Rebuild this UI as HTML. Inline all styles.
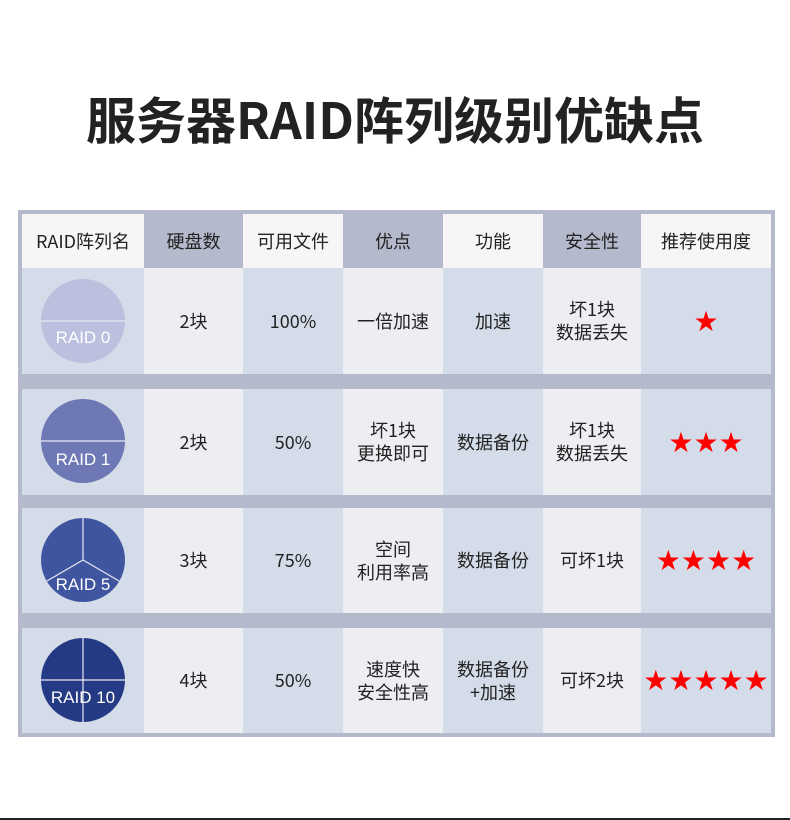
<!DOCTYPE html>
<html><head><meta charset="utf-8"><style>
body{margin:0;width:790px;height:820px;background:#fff;position:relative;overflow:hidden;font-family:"Liberation Sans","Noto Sans CJK SC",sans-serif;}
.t{position:absolute;left:0;width:790px;top:84px;text-align:center;font-size:50px;font-weight:bold;color:#222;line-height:68px;font-family:"Noto Sans CJK SC",sans-serif;}
.tb{position:absolute;left:18px;top:210px;width:757px;height:527px;background:#b4b9cc;}
.c{position:absolute;display:flex;align-items:center;justify-content:center;text-align:center;font-size:18px;color:#222;line-height:23px;font-family:"Noto Sans CJK SC",sans-serif;}
.st{color:#f00;font-size:28px;letter-spacing:0px;font-family:"DejaVu Sans",sans-serif;}
.line{position:absolute;left:0;top:818px;width:790px;height:2px;background:#222;}
</style></head><body>
<div class="t">服务器RAID阵列级别优缺点</div>
<div class="tb"></div>
<div id="g"></div>
<svg style="position:absolute;left:0;top:0" width="790" height="820">
<defs><clipPath id="k0"><circle cx="83" cy="321" r="42"/></clipPath>
<clipPath id="k1"><circle cx="83" cy="441" r="42"/></clipPath>
<clipPath id="k2"><circle cx="83" cy="560" r="42"/></clipPath>
<clipPath id="k3"><circle cx="83" cy="680" r="42"/></clipPath></defs>
</svg>
<script>
var xs=[22,144,243,343,443,543,641,771];
var H=["RAID阵列名","硬盘数","可用文件","优点","功能","安全性","推荐使用度"];
var rows=[[268,374],[389,495],[508,613],[628,733]];
var D=[["","2块","100%","一倍加速","加速","坏1块<br>数据丢失",1],
["","2块","50%","坏1块<br>更换即可","数据备份","坏1块<br>数据丢失",3],
["","3块","75%","空间<br>利用率高","数据备份","可坏1块",4],
["","4块","50%","速度快<br>安全性高","数据备份<br>+加速","可坏2块",5]];
var h="";
for(var i=0;i<7;i++){h+='<div class="c" style="left:'+xs[i]+'px;top:214px;width:'+(xs[i+1]-xs[i])+'px;height:54px;background:'+(i%2?'#b4b9cc':'#f7f5f6')+'">'+H[i]+'</div>';}
for(var r=0;r<4;r++){for(var i=0;i<7;i++){var v=D[r][i];if(i==6){v='<span class="st">'+"★★★★★".slice(0,v)+'</span>';}
h+='<div class="c" style="left:'+xs[i]+'px;top:'+rows[r][0]+'px;width:'+(xs[i+1]-xs[i])+'px;height:'+(rows[r][1]-rows[r][0])+'px;background:'+(i%2?'#eceef2':'#d5dce9')+'">'+v+'</div>';}}
document.getElementById('g').innerHTML=h;
var cy=[321,441,560,680],col=["#bcc0df","#6d78b5","#3f55a0","#253a85"],lab=["RAID 0","RAID 1","RAID 5","RAID 10"],off=[22,24,30,23];
var s="";
for(var r=0;r<4;r++){var y=cy[r];s+='<circle cx="83" cy="'+y+'" r="42" fill="'+col[r]+'"/>';
var L='stroke="#e8e8f0" stroke-width="1.2"';
if(r<2)s+='<line x1="41" y1="'+y+'" x2="125" y2="'+y+'" '+L+'/>';
if(r==2)s+='<g clip-path="url(#k2)"><line x1="83" y1="'+(y-42)+'" x2="83" y2="'+y+'" '+L+'/><line x1="83" y1="'+y+'" x2="40" y2="'+(y+25)+'" '+L+'/><line x1="83" y1="'+y+'" x2="126" y2="'+(y+25)+'" '+L+'/></g>';
if(r==3)s+='<g clip-path="url(#k3)"><line x1="41" y1="'+y+'" x2="125" y2="'+y+'" '+L+'/><line x1="83" y1="'+(y-42)+'" x2="83" y2="'+(y+42)+'" '+L+'/></g>';
s+='<text x="83" y="'+(y+off[r])+'" text-anchor="middle" fill="#fff" font-size="17" font-family="Liberation Sans,sans-serif">'+lab[r]+'</text>';}
var sv=document.querySelector('svg');sv.innerHTML+=s;
</script>
<div class="line"></div>
</body></html>
